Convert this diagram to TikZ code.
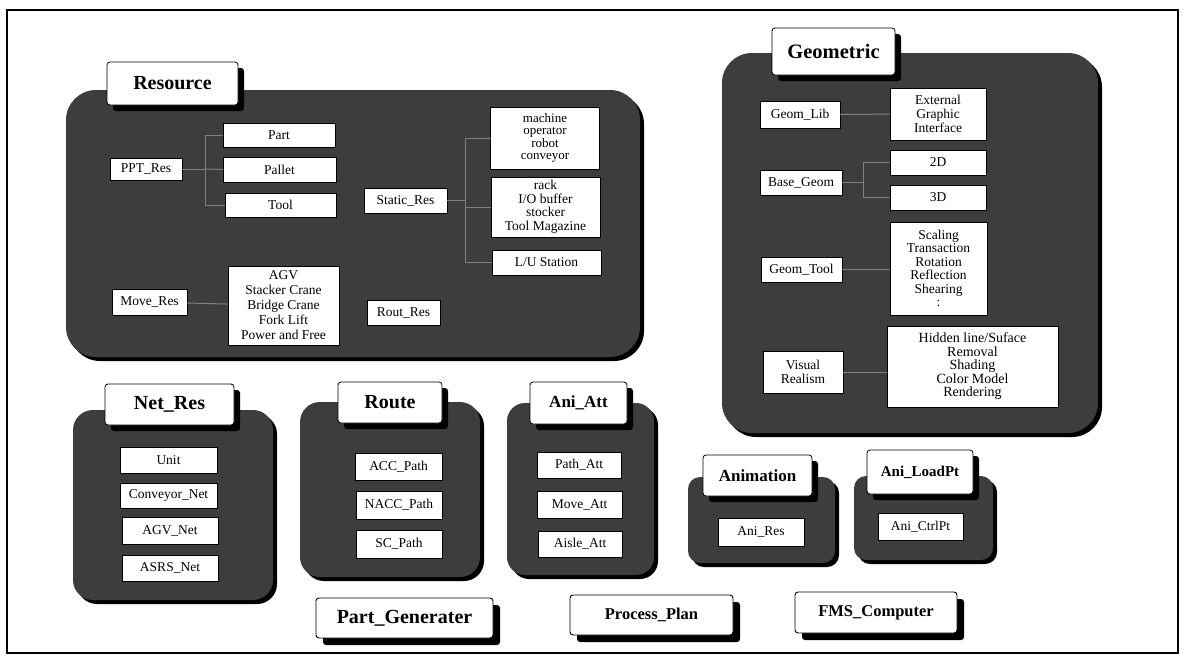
\documentclass[tikz,border=0pt]{standalone}
\usepackage{fontspec}
\setmainfont{Liberation Serif}
\usetikzlibrary{shadows}
\newcommand{\fsz}[2]{\fontsize{#1}{#2}\selectfont}
\begin{document}
\begin{tikzpicture}[x=1pt,y=-1pt,
  every node/.style={inner sep=0pt, outer sep=0pt},
  container/.style={fill=black!76, rounded corners=#1,
    drop shadow={shadow xshift=4pt, shadow yshift=-4pt, fill=black, opacity=1}},
  container/.default=22pt,
  tabbox/.style={fill=white, draw=black, line width=0.8pt, rounded corners=3pt,
    font=\fsz{20}{22}\bfseries,
    drop shadow={shadow xshift=6pt, shadow yshift=-6pt, fill=black, opacity=1}},
  item/.style={fill=white, draw=black, line width=0.5pt,
    font=\fsz{13.5}{14}, align=center},
  multi/.style={item},
  button/.style={fill=white, draw=black, line width=0.9pt, rounded corners=3pt,
    font=\fsz{17}{19}\bfseries,
    drop shadow={shadow xshift=7pt, shadow yshift=-7pt, fill=black, opacity=1}},
  conn/.style={draw=black!50, line width=1pt}
]
\useasboundingbox (0,0) rectangle (1185,662);
\node[draw=black, line width=1.1pt, minimum width=1171pt, minimum height=643pt] (frame) at (592.5,331.5) {};

% ---------------- Resource ----------------
\node[container=30pt, minimum width=574pt, minimum height=267pt] (resbox) at (353,223.5) {};
\node[tabbox, minimum width=131pt, minimum height=43pt] (restab) at (172.5,83.5) {Resource};
\node[item, minimum width=72pt, minimum height=22pt] (ppt) at (146,169) {PPT\_Res};
\node[item, minimum width=112pt, minimum height=24pt] (part) at (279,135) {Part};
\node[item, minimum width=113pt, minimum height=25pt] (pallet) at (279.5,169.5) {Pallet};
\node[item, minimum width=111pt, minimum height=24pt] (tool) at (280.5,205) {Tool};
\node[item, minimum width=75pt, minimum height=26pt] (move) at (149.5,302) {Move\_Res};
\node[multi, minimum width=111pt, minimum height=79pt, font=\fsz{13.5}{15}] (agv) at (283.5,305.5) {AGV\\Stacker Crane\\Bridge Crane\\Fork Lift\\Power and Free};
\node[item, minimum width=83pt, minimum height=25pt] (static) at (405.5,200.5) {Static\_Res};
\node[item, minimum width=73pt, minimum height=25pt] (rout) at (403.5,312.5) {Rout\_Res};
\node[multi, minimum width=109pt, minimum height=62pt, font=\fsz{13}{12.5}] (machine) at (545,138) {machine\\operator\\robot\\conveyor};
\node[multi, minimum width=109pt, minimum height=60pt, font=\fsz{13.5}{13.5}] (rack) at (545.5,207) {rack\\I/O buffer\\stocker\\Tool Magazine};
\node[item, minimum width=109pt, minimum height=25pt] (lu) at (546.5,262.5) {L/U Station};

\coordinate (pptbus) at (205,169);
\draw[conn] (ppt) -- (pptbus);
\draw[conn] (pptbus |- part) -- (pptbus |- tool);
\draw[conn] (pptbus |- part) -- (part.west);
\draw[conn] (pptbus) -- (pallet.west);
\draw[conn] (pptbus |- tool) -- (tool.west);
\draw[conn] (move) -- (agv);
\coordinate (stbus) at (465,200.5);
\draw[conn] (static) -- (stbus);
\draw[conn] (stbus |- machine) -- (stbus |- lu);
\draw[conn] (stbus |- machine) -- (machine.west);
\draw[conn] (stbus |- rack) -- (rack.west);
\draw[conn] (stbus |- lu) -- (lu.west);

% ---------------- Geometric ----------------
\node[container=30pt, minimum width=376pt, minimum height=380pt] (geobox) at (910,243) {};
\node[tabbox, minimum width=123pt, minimum height=47pt, font=\fsz{20.5}{22}\bfseries] (geotab) at (833.5,51.5) {Geometric};
\node[item, minimum width=80pt, minimum height=27pt] (glib) at (800,114.5) {Geom\_Lib};
\node[multi, minimum width=96pt, minimum height=52pt, font=\fsz{13.5}{14}] (egi) at (938,114) {External\\Graphic\\Interface};
\node[item, minimum width=96pt, minimum height=25pt] (twod) at (938,162.5) {2D};
\node[item, minimum width=96pt, minimum height=25pt] (threed) at (938,197.5) {3D};
\node[item, minimum width=82pt, minimum height=25pt] (bgeom) at (801,182.5) {Base\_Geom};
\node[multi, minimum width=97pt, minimum height=93pt, font=\fsz{13.5}{13.5}] (scal) at (938.5,268.5) {Scaling\\Transaction\\Rotation\\Reflection\\Shearing\\:};
\node[item, minimum width=81pt, minimum height=25pt] (gtool) at (801.5,269.5) {Geom\_Tool};
\node[multi, minimum width=171pt, minimum height=81pt, font=\fsz{14}{13.5}] (hidden) at (972.5,366.5) {Hidden line/Suface\\Removal\\Shading\\Color Model\\Rendering};
\node[multi, minimum width=80pt, minimum height=42pt, font=\fsz{13.5}{14}] (visual) at (803,372) {Visual\\Realism};

\coordinate (gbus) at (863,182.5);
\draw[conn] (glib) -- (egi);
\draw[conn] (bgeom) -- (gbus);
\draw[conn] (gbus |- twod) -- (gbus |- threed);
\draw[conn] (gbus |- twod) -- (twod.west);
\draw[conn] (gbus |- threed) -- (threed.west);
\draw[conn] (gtool) -- (gtool -| scal.west);
\draw[conn] (visual) -- (visual -| hidden.west);

% ---------------- Net_Res ----------------
\node[container=20pt, minimum width=200pt, minimum height=190pt] (netbox) at (173,505) {};
\node[tabbox, minimum width=129pt, minimum height=41pt] (nettab) at (169.5,404.5) {Net\_Res};
\node[item, minimum width=97pt, minimum height=26pt] (unit) at (168.5,460) {Unit};
\node[item, minimum width=97pt, minimum height=25pt] (conv) at (168.5,495.5) {Conveyor\_Net};
\node[item, minimum width=96pt, minimum height=27pt] (agvnet) at (170,530.5) {AGV\_Net};
\node[item, minimum width=96pt, minimum height=26pt] (asrs) at (170,568) {ASRS\_Net};

% ---------------- Route ----------------
\node[container=20pt, minimum width=180pt, minimum height=175pt] (routebox) at (390,489.5) {};
\node[tabbox, minimum width=104pt, minimum height=41pt] (routetab) at (390,402.5) {Route};
\node[item, minimum width=87pt, minimum height=27pt] (acc) at (398.5,466.5) {ACC\_Path};
\node[item, minimum width=86pt, minimum height=28pt] (nacc) at (399,505) {NACC\_Path};
\node[item, minimum width=86pt, minimum height=28pt] (sc) at (399,544) {SC\_Path};

% ---------------- Ani_Att ----------------
\node[container=18pt, minimum width=147pt, minimum height=172pt] (attbox) at (580.5,489) {};
\node[tabbox, minimum width=97pt, minimum height=42pt, font=\fsz{17}{19}\bfseries] (atttab) at (578.5,403) {Ani\_Att};
\node[item, minimum width=84pt, minimum height=26pt] (patt) at (579,465) {Path\_Att};
\node[item, minimum width=85pt, minimum height=27pt] (matt) at (579.5,504.5) {Move\_Att};
\node[item, minimum width=84pt, minimum height=26pt] (aatt) at (580,544) {Aisle\_Att};

% ---------------- Animation ----------------
\node[container=12pt, minimum width=147pt, minimum height=86pt] (anibox) at (761.5,520) {};
\node[tabbox, minimum width=109pt, minimum height=41pt, font=\fsz{17}{19}\bfseries] (anitab) at (757.5,475.5) {Animation};
\node[item, minimum width=86pt, minimum height=28pt] (anires) at (761,532) {Ani\_Res};

% ---------------- Ani_LoadPt ----------------
\node[container=12pt, minimum width=139pt, minimum height=84pt] (loadbox) at (923.5,518) {};
\node[tabbox, minimum width=106pt, minimum height=44pt, font=\fsz{15}{17}\bfseries] (loadtab) at (920,472) {Ani\_LoadPt};
\node[item, minimum width=85pt, minimum height=27pt] (ctrl) at (920.5,526.5) {Ani\_CtrlPt};

% ---------------- Buttons ----------------
\node[button, minimum width=177pt, minimum height=40pt, font=\fsz{20}{22}\bfseries] (pgen) at (404.5,618) {Part\_Generater};
\node[button, minimum width=163pt, minimum height=40pt, font=\fsz{16.5}{18}\bfseries] (pplan) at (651.5,615) {Process\_Plan};
\node[button, minimum width=162pt, minimum height=41pt, font=\fsz{16.5}{18}\bfseries] (fms) at (876,612.5) {FMS\_Computer};
\end{tikzpicture}
\end{document}
